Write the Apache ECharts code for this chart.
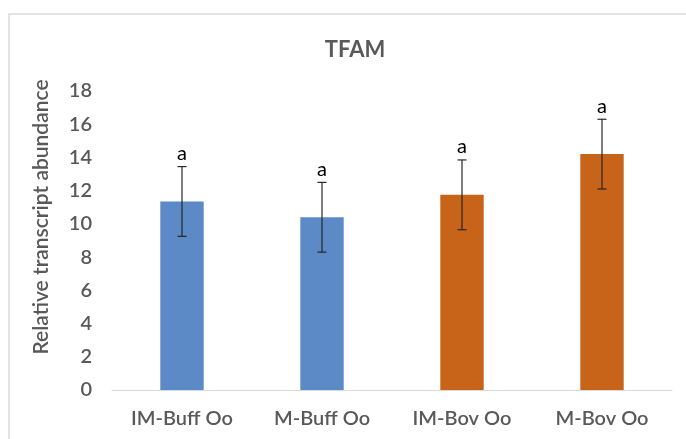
<!DOCTYPE html>
<html>
<head>
<meta charset="utf-8">
<script src="https://cdn.jsdelivr.net/npm/echarts@6/dist/echarts.min.js"></script>
<style>
  html, body { margin: 0; padding: 0; background: #fff; }
  #chart { width: 686px; height: 439px; }
</style>
</head>
<body>
<div id="chart"></div>
<script>
// categories and values
var categories = ["IM-Buff Oo", "M-Buff Oo", "IM-Bov Oo", "M-Bov Oo"];
var means = [11.35, 10.4, 11.75, 14.2];
var errors = [2.1, 2.1, 2.1, 2.1];
var letters = ["a", "a", "a", "a"];
var barColors = ["#5b8ac6", "#5b8ac6", "#c8631a", "#c8631a"];
var yTicks = { min: 0, max: 18, interval: 2 };
var yTitle = "Relative transcript abundance";

var font = "Lato, 'Open Sans', sans-serif";
var grey = "#595959";

var chart = echarts.init(document.getElementById("chart"));

var option = {
  animation: false,
  title: {
    text: "TFAM",
    left: 350,
    textAlign: "center",
    top: 34,
    textStyle: { fontFamily: font, fontSize: 22, fontWeight: "bold", color: grey }
  },
  graphic: [
    {
      type: "rect",
      shape: { x: 9, y: 14, width: 700, height: 460 },
      style: { fill: "none", stroke: "#d9d9d9", lineWidth: 1.5 },
      silent: true
    },
    {
      // y axis title, placed a little above the plot centre as in the picture
      type: "text",
      x: 41, y: 217,
      rotation: Math.PI / 2,
      style: {
        text: yTitle,
        align: "center", verticalAlign: "middle",
        fontFamily: font, fontSize: 21, fontWeight: 600, fill: grey
      },
      silent: true
    }
  ],
  grid: { left: 112, right: 14, top: 91, bottom: 49 },
  xAxis: {
    type: "category",
    data: categories,
    axisLine: { lineStyle: { color: "#d9d9d9", width: 1 } },
    axisTick: { show: false },
    axisLabel: { fontFamily: font, fontSize: 20, fontWeight: 600, color: grey, margin: 19 }
  },
  yAxis: {
    type: "value",
    min: yTicks.min,
    max: yTicks.max,
    interval: yTicks.interval,
    axisLine: { show: false },
    axisTick: { show: false },
    splitLine: { show: false },
    axisLabel: { fontFamily: font, fontSize: 20, fontWeight: 600, color: grey, margin: 20 }
  },
  series: [
    {
      type: "bar",
      barWidth: "31%",
      data: means.map(function (v, i) {
        return { value: v, itemStyle: { color: barColors[i] } };
      })
    },
    {
      type: "custom",
      data: means.map(function (v, i) { return [i, v, errors[i]]; }),
      renderItem: function (params, api) {
        var i = api.value(0);
        var m = api.value(1);
        var e = api.value(2);
        var hi = api.coord([i, m + e]);
        var lo = api.coord([i, m - e]);
        var cap = 4.5;
        var st = { stroke: "#262626", lineWidth: 1.2 };
        return {
          type: "group",
          children: [
            { type: "line", shape: { x1: hi[0], y1: hi[1], x2: lo[0], y2: lo[1] }, style: st },
            { type: "line", shape: { x1: hi[0] - cap, y1: hi[1], x2: hi[0] + cap, y2: hi[1] }, style: st },
            { type: "line", shape: { x1: lo[0] - cap, y1: lo[1], x2: lo[0] + cap, y2: lo[1] }, style: st },
            {
              type: "text",
              style: {
                text: letters[params.dataIndex],
                x: hi[0], y: hi[1] - 3,
                align: "center", verticalAlign: "bottom",
                fontFamily: font, fontSize: 20, fill: "#000"
              }
            }
          ]
        };
      },
      z: 5
    }
  ]
};

chart.setOption(option);
</script>
</body>
</html>
